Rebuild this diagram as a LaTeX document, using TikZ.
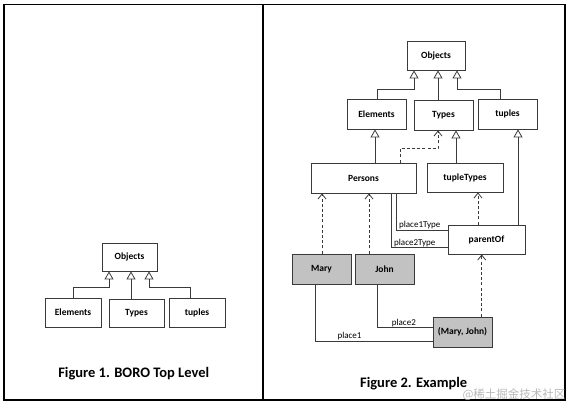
\documentclass[tikz,border=0pt]{standalone}
\usepackage{fontspec}
\setmainfont{Carlito}
\newfontfamily\cjkfont{Noto Sans CJK SC}
\usetikzlibrary{arrows.meta}
\definecolor{linec}{HTML}{3A3A3A}
\definecolor{boxgray}{HTML}{C2C2C2}
\tikzset{
  umlbox/.style={draw=linec, line width=0.8pt, fill=white, inner sep=0pt,
    font=\bfseries\fontsize{9.5}{11}\selectfont},
  graybox/.style={umlbox, fill=boxgray},
  gen/.style={draw=linec, line width=0.8pt, -{Triangle[open, length=8pt, width=9pt]}},
  dep/.style={draw=linec, line width=0.8pt, dash pattern=on 3pt off 2.2pt,
    -{Straight Barb[length=5pt, width=8pt]}},
  assoc/.style={draw=linec, line width=0.8pt},
  rolelbl/.style={font=\fontsize{9}{10}\selectfont, inner sep=0.6pt, anchor=south},
  caption/.style={font=\bfseries\fontsize{14.5}{16}\selectfont}
}
\begin{document}
\begin{tikzpicture}[x=1pt, y=-1pt]
\useasboundingbox (0,0) rectangle (572,407);
% frame
\draw[line width=1.2pt] (4,4.5) rectangle (565,400);
\draw[line width=1.2pt] (263,4.5) -- (263,400);

% ---------- Figure 1 ----------
\node[umlbox, minimum width=55pt, minimum height=28pt] (O1) at (129.5,257) {Objects};
\node[umlbox, minimum width=56pt, minimum height=29pt] (E1) at (73,312.5) {Elements};
\node[umlbox, minimum width=55pt, minimum height=28pt] (T1) at (136.5,313) {Types};
\node[umlbox, minimum width=56pt, minimum height=29pt] (U1) at (197,312.5) {tuples};
\draw[gen] (E1.north) -- ++(0,-10) -| ([xshift=-20.5pt]O1.south);
\draw[gen] ([xshift=-5.5pt]T1.north) -- ([xshift=1.5pt]O1.south);
\draw[gen] ([xshift=-6.3pt]U1.north) -- ++(0,-10) -| ([xshift=19.5pt]O1.south);
\node[caption] (C1) at (133.7,374) {Figure 1. BORO Top Level};

% ---------- Figure 2 ----------
\node[umlbox, minimum width=58pt, minimum height=29pt] (O2) at (436,55.5) {Objects};
\node[umlbox, minimum width=59pt, minimum height=30pt] (E2) at (376.5,114) {Elements};
\node[umlbox, minimum width=59pt, minimum height=30pt] (T2) at (443.5,115) {Types};
\node[umlbox, minimum width=59pt, minimum height=30pt] (U2) at (507.5,114) {tuples};
\node[umlbox, minimum width=105pt, minimum height=30pt] (P2) at (363.5,178) {Persons};
\node[umlbox, minimum width=76pt, minimum height=29pt] (TT) at (465,177.5) {tupleTypes};
\node[umlbox, minimum width=77pt, minimum height=29pt] (PO) at (486.5,239.5) {parentOf};
\node[graybox, minimum width=59pt, minimum height=30pt] (M) at (321.5,269) {Mary};
\node[graybox, minimum width=59pt, minimum height=30pt] (J) at (384.5,269) {John};
\node[graybox, minimum width=59pt, minimum height=30pt] (MJ) at (462.5,332) {(Mary, John)};

% generalizations
\draw[gen] ([xshift=1pt]E2.north) -- ++(0,-9) -| ([xshift=-22pt]O2.south);
\draw[gen] ([xshift=-5.5pt]T2.north) -- ([xshift=2pt]O2.south);
\draw[gen] ([xshift=-7.5pt]U2.north) -- ++(0,-9) -| ([xshift=21pt]O2.south);
\draw[gen] ([xshift=11.5pt]P2.north) -- ([xshift=-1.5pt]E2.south);
\draw[gen] ([xshift=-9pt]TT.north) -- ([xshift=12.5pt]T2.south);
\draw[gen] ([xshift=31.5pt]PO.north) -- ([xshift=10.5pt]U2.south);

% instance-of (dashed)
\draw[dep] ([xshift=36.5pt]P2.north) -- ++(0,-14) -| ([xshift=-5.5pt]T2.south);
\draw[dep] ([xshift=0.5pt]M.north) -- ([xshift=0.5pt]M.north |- P2.south);
\draw[dep] ([xshift=-15.5pt]J.north) -- ([xshift=-15.5pt]J.north |- P2.south);
\draw[dep] ([xshift=-8.5pt]PO.north) -- ([xshift=-8.5pt]PO.north |- TT.south);
\draw[dep] ([xshift=19.2pt]MJ.north) -- ([xshift=19.2pt]MJ.north |- PO.south);

% roles
\draw[assoc] ([xshift=32.5pt]P2.south) |- ([yshift=9.5pt]PO.west)
  node[rolelbl, pos=0.73] (L1) {place1Type};
\draw[assoc] ([xshift=27.5pt]P2.south) |- ([yshift=-8.2pt]PO.west)
  node[rolelbl, pos=0.71] (L2) {place2Type};
\draw[assoc] ([xshift=-7.2pt]J.south) |- ([yshift=4.3pt]MJ.west)
  node[rolelbl, pos=0.74] (L3) {place2};
\draw[assoc] ([xshift=-6.2pt]M.south) |- ([yshift=-9.3pt]MJ.west)
  node[rolelbl, pos=0.646] (L4) {place1};

\node[caption] (C2) at (413.7,383.3) {Figure 2. Example};
\node[font=\cjkfont\fontsize{11.5}{12}\selectfont, text=black!28, inner sep=0pt] (WM) at (514,394.5) {@稀土掘金技术社区};
\end{tikzpicture}
\end{document}
